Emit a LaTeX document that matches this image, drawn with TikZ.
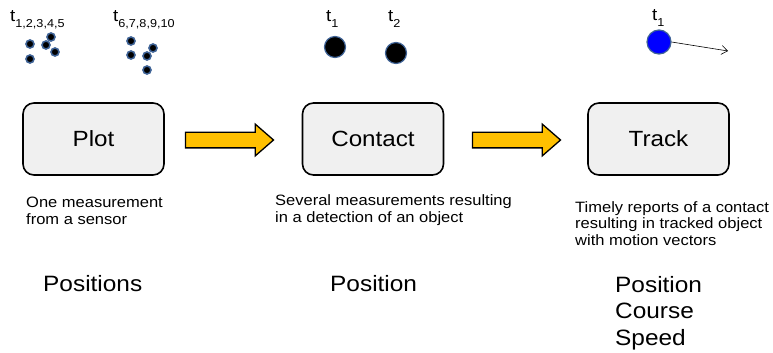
\documentclass[tikz,border=0pt]{standalone}
\usepackage{fontspec}
\setmainfont{Liberation Sans}[FakeStretch=1.1]
\usetikzlibrary{shapes.arrows,arrows.meta}
\definecolor{boxfill}{HTML}{F0F0F0}
\definecolor{arrowfill}{HTML}{FFC000}
\definecolor{dotring}{HTML}{3F6396}
\definecolor{trackblue}{HTML}{0000FF}
\begin{document}
\begin{tikzpicture}[x=1pt,y=-1pt,
  stage/.style={draw=black, line width=1.6pt, fill=boxfill, rounded corners=11pt,
    minimum width=141pt, minimum height=72pt, inner sep=0pt,
    font=\fontsize{22}{22}\selectfont},
  flow/.style={single arrow, draw=black, line width=1.3pt, fill=arrowfill,
    inner xsep=0pt, inner ysep=7.2pt, single arrow head extend=8pt,
    single arrow tip angle=82, minimum height=88pt},
  desc/.style={anchor=base west, inner sep=0pt, align=left,
    font=\fontsize{15}{16.5}\selectfont},
  big/.style={anchor=base west, inner sep=0pt, align=left,
    font=\fontsize{22.2}{26}\selectfont},
  tlab/.style={anchor=base west, inner sep=0pt, font=\fontsize{17}{17}\selectfont},
  smalldot/.style={circle, fill=black, draw=dotring, line width=1.6pt,
    minimum size=8pt, inner sep=0pt},
  bigdot/.style={circle, fill=black, draw=dotring, line width=1.2pt,
    minimum size=21pt, inner sep=0pt},
  bluedot/.style={circle, fill=trackblue, draw=dotring, line width=1.2pt,
    minimum size=24pt, inner sep=0pt}
]
\useasboundingbox (0,0) rectangle (773,353);

% boxes
\node[stage] (plot) at (93.5,139) {Plot};
\node[stage] (contact) at (373,139) {Contact};
\node[stage] (track) at (658.5,139) {Track};

% flow arrows
\node[flow] (a1) at (225,140) {};
\node[flow] (a2) at (512,140) {};

% descriptions (anchored at the baseline of the last line)
\node[desc] (d1) at (26,224) {One measurement\\from a sensor};
\node[desc] (d2) at (275,222) {Several measurements resulting\\in a detection of an object};
\node[desc] (d3) at (575,245) {Timely reports of a contact\\resulting in tracked object\\with motion vectors};

% bottom labels
\node[big] (b1) at (43,291) {Positions};
\node[big] (b2) at (330,291) {Position};
\node[big, font=\fontsize{22.2}{26.3}\selectfont] (b3) at (615,345) {Position\\Course\\Speed};

% time labels
\newcommand{\tsub}[1]{t\raisebox{-0.32em}{\fontsize{11.5}{11.5}\selectfont #1}}
\node[tlab] (t1) at (10,22) {\tsub{1,2,3,4,5}};
\node[tlab] (t2) at (113,22) {\tsub{6,7,8,9,10}};
\node[tlab] (t3) at (326,22) {\tsub{1}};
\node[tlab] (t4) at (388,22) {\tsub{2}};
\node[tlab] (t5) at (652,21) {\tsub{1}};

% plot dots
\node[smalldot] (p1) at (30,44) {};
\node[smalldot] (p2) at (30,59) {};
\node[smalldot] (p3) at (46,45) {};
\node[smalldot] (p4) at (51,37) {};
\node[smalldot] (p5) at (55,52) {};
\node[smalldot] (p6) at (131,41) {};
\node[smalldot] (p7) at (131,55) {};
\node[smalldot] (p8) at (147,56) {};
\node[smalldot] (p9) at (153,48) {};
\node[smalldot] (p10) at (147,70) {};

% contact dots
\node[bigdot] (c1) at (335,47) {};
\node[bigdot] (c2) at (396,53) {};

% track dot and vector
\node[bluedot] (tr) at (659,42) {};
\coordinate (vend) at (728,51);
\draw[line width=0.6pt, -{Straight Barb[length=6pt,width=9pt]}] (tr.east) -- (vend);
\end{tikzpicture}
\end{document}
